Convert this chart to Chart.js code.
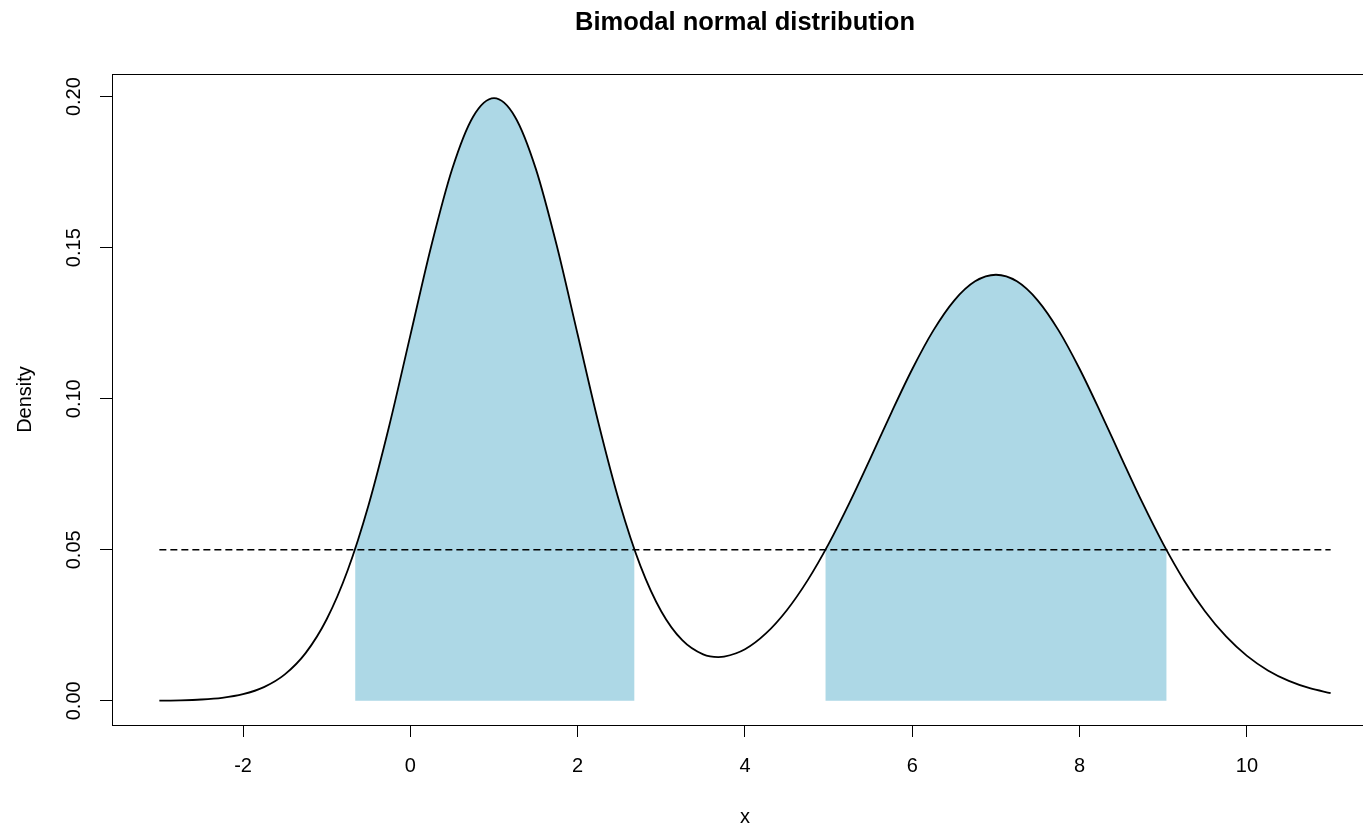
<!DOCTYPE html>
<html>
<head>
<meta charset="utf-8">
<title>Bimodal normal distribution</title>
<script src="https://cdn.jsdelivr.net/npm/chart.js@4.4.1/dist/chart.umd.min.js"></script>
<style>
  html, body { margin: 0; padding: 0; background: #fff; overflow: hidden; }
  #wrap { position: relative; width: 1400px; height: 829px; }
</style>
</head>
<body>
<div id="wrap"><canvas id="chart"></canvas></div>
<script>
/* density curve, every 0.25 (plus the dip near 3.68) */
var xValues = [
  -3, -2.75, -2.5, -2.25, -2, -1.75, -1.5, -1.25, -1, -0.75, -0.5, -0.25,
  0, 0.25, 0.5, 0.75, 1, 1.25, 1.5, 1.75, 2, 2.25, 2.5, 2.75,
  3, 3.25, 3.5, 3.68, 3.75, 4, 4.25, 4.5, 4.75, 5, 5.25, 5.5, 5.75,
  6, 6.25, 6.5, 6.75, 7, 7.25, 7.5, 7.75, 8, 8.25, 8.5, 8.75,
  9, 9.25, 9.5, 9.75, 10, 10.25, 10.5, 10.75, 11
];
var densityValues = [
  0.00007, 0.00018, 0.00044, 0.00101, 0.00222, 0.00455, 0.00876, 0.01587, 0.02700, 0.04314, 0.06476, 0.09132,
  0.12099, 0.15057, 0.17604, 0.19334, 0.19949, 0.19337, 0.17610, 0.15071, 0.12126, 0.09182, 0.06565, 0.04468,
  0.02958, 0.02006, 0.01536, 0.01447, 0.01461, 0.01708, 0.02231, 0.03000, 0.03996, 0.05196, 0.06562, 0.08037, 0.09544,
  0.10985, 0.12254, 0.13250, 0.13886, 0.14105, 0.13886, 0.13250, 0.12254, 0.10985, 0.09544, 0.08037, 0.06559,
  0.05189, 0.03978, 0.02957, 0.02130, 0.01487, 0.01006, 0.00660, 0.00419, 0.00258
];

/* shaded parts, where density is above the cut-off */
var leftBandX = [-0.66, -0.5, -0.25, 0, 0.25, 0.5, 0.75, 1, 1.25, 1.5, 1.75, 2, 2.25, 2.5, 2.68];
var leftBandY = [0.05, 0.06476, 0.09132, 0.12099, 0.15057, 0.17604, 0.19334, 0.19949, 0.19337, 0.17610, 0.15071, 0.12126, 0.09182, 0.06565, 0.05];
var rightBandX = [4.96, 5, 5.25, 5.5, 5.75, 6, 6.25, 6.5, 6.75, 7, 7.25, 7.5, 7.75, 8, 8.25, 8.5, 8.75, 9, 9.04];
var rightBandY = [0.05, 0.05196, 0.06562, 0.08037, 0.09544, 0.10985, 0.12254, 0.13250, 0.13886, 0.14105, 0.13886, 0.13250, 0.12254, 0.10985, 0.09544, 0.08037, 0.06559, 0.05189, 0.05];

/* dashed cut-off line */
var cutoffX = [-3, 11];
var cutoffY = [0.05, 0.05];

var xTicks = [-2, 0, 2, 4, 6, 8, 10];
var xTickLabels = ['-2', '0', '2', '4', '6', '8', '10'];
var yTicks = [0, 0.05, 0.1, 0.15, 0.2];
var yTickLabels = ['0.00', '0.05', '0.10', '0.15', '0.20'];

var FONT = "'Liberation Sans', Arial, sans-serif";

function pts(xs, ys) {
  return xs.map(function(x, i) { return { x: x, y: ys[i] }; });
}

/* R style box, rotated y labels and main title */
var rBits = {
  id: 'rBits',
  afterDraw: function(chart) {
    var ctx = chart.ctx, a = chart.chartArea, ys = chart.scales.y;
    ctx.save();
    ctx.strokeStyle = '#000';
    ctx.lineWidth = 1;
    ctx.strokeRect(a.left + 0.5, a.top + 0.5, a.right - a.left, a.bottom - a.top);

    ctx.fillStyle = '#000';
    ctx.font = '20px ' + FONT;
    ctx.textAlign = 'center';
    ctx.textBaseline = 'middle';
    yTicks.forEach(function(v, i) {
      ctx.save();
      ctx.translate(74, ys.getPixelForValue(v));
      ctx.rotate(-Math.PI / 2);
      ctx.fillText(yTickLabels[i], 0, 0);
      ctx.restore();
    });

    ctx.font = 'bold 25.5px ' + FONT;
    ctx.fillText('Bimodal normal distribution', (a.left + a.right) / 2, 23);
    ctx.restore();
  }
};

new Chart(document.getElementById('chart'), {
  type: 'line',
  data: {
    datasets: [
      {
        data: pts(xValues, densityValues),
        borderColor: '#000',
        borderWidth: 1.8,
        pointRadius: 0,
        cubicInterpolationMode: 'monotone',
        fill: false
      },
      {
        data: pts(cutoffX, cutoffY),
        borderColor: '#000',
        borderWidth: 1.4,
        borderDash: [7, 4],
        pointRadius: 0,
        fill: false
      },
      {
        data: pts(leftBandX, leftBandY),
        borderWidth: 0,
        backgroundColor: '#add8e6',
        pointRadius: 0,
        cubicInterpolationMode: 'monotone',
        fill: 'origin'
      },
      {
        data: pts(rightBandX, rightBandY),
        borderWidth: 0,
        backgroundColor: '#add8e6',
        pointRadius: 0,
        cubicInterpolationMode: 'monotone',
        fill: 'origin'
      }
    ]
  },
  options: {
    responsive: true,
    maintainAspectRatio: false,
    animation: false,
    events: [],
    layout: { padding: { top: 74, right: 22, bottom: 0, left: 0 } },
    plugins: {
      legend: { display: false },
      tooltip: { enabled: false },
      title: { display: false }
    },
    scales: {
      x: {
        type: 'linear',
        min: -3.566,
        max: 11.566,
        afterBuildTicks: function(s) { s.ticks = xTicks.map(function(v) { return { value: v }; }); },
        afterFit: function(s) { s.height = 104; },
        border: { display: false },
        grid: { drawOnChartArea: false, drawTicks: true, tickLength: 12, color: '#000', lineWidth: 1 },
        ticks: {
          padding: 17,
          color: '#000',
          maxRotation: 0,
          autoSkip: false,
          font: { family: FONT, size: 20 },
          callback: function(v, i) { return xTickLabels[i]; }
        },
        title: {
          display: true,
          text: 'x',
          color: '#000',
          font: { family: FONT, size: 20 },
          padding: { top: 1, bottom: 0 }
        }
      },
      y: {
        type: 'linear',
        min: -0.008,
        max: 0.2075,
        afterBuildTicks: function(s) { s.ticks = yTicks.map(function(v) { return { value: v }; }); },
        afterFit: function(s) { s.width = 112; },
        border: { display: false },
        grid: { drawOnChartArea: false, drawTicks: true, tickLength: 12, color: '#000', lineWidth: 1 },
        ticks: { display: false },
        title: {
          display: true,
          text: 'Density',
          color: '#000',
          font: { family: FONT, size: 20 },
          padding: { top: 13, bottom: 0 }
        }
      }
    }
  },
  plugins: [rBits]
});
</script>
</body>
</html>
